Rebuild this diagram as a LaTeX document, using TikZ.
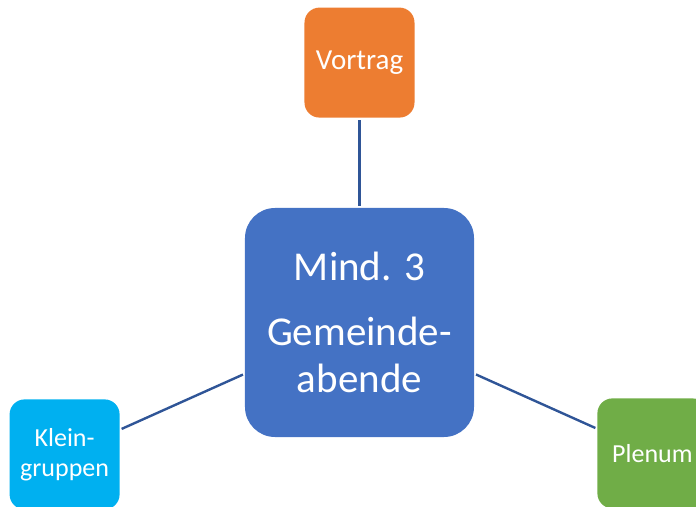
\documentclass[tikz,border=0pt]{standalone}
\usepackage{fontspec}
\setmainfont{Carlito}
\usetikzlibrary{positioning}

\begin{document}
\begin{tikzpicture}[
            box/.style={rounded corners=15pt, minimum width=110pt, minimum height=110pt, inner sep=0pt, text=white},
            every node/.style={align=center},
            to/.style={draw=linkblue, line width=2.4pt, shorten >=2pt, shorten <=2pt}
  ]
  \definecolor{linkblue}{HTML}{2F5597}
  \useasboundingbox (-359.5pt,-183.5pt) rectangle (336.5pt,322.5pt);

  \node[box, fill={rgb,255:red,68;green,114;blue,196}, rounded corners=30pt, minimum width=229pt, minimum height=229pt,
        font=\fontsize{41pt}{47pt}\selectfont] (mid) {Mind. 3\\[18pt]Gemeinde-\\abende};
  \node[box, fill={rgb,255:red,237;green,125;blue,49}, font=\fontsize{29pt}{33pt}\selectfont] (vortrag) [above=90pt of mid] {Vortrag};
  \node[box, fill={rgb,255:red,0;green,176;blue,240}, font=\fontsize{26pt}{30pt}\selectfont] (klein) [below left=-38pt and 125pt of mid] {Klein-\\gruppen};
  \node[box, fill={rgb,255:red,112;green,173;blue,71}, font=\fontsize{26pt}{30pt}\selectfont] (plenum) [below right=-39pt and 123pt of mid] {Plenum};

  \draw[to] (mid) -- (vortrag);
  \draw[to] (mid) -- (klein);
  \draw[to] (mid) -- (plenum);

\end{tikzpicture}
\end{document}
